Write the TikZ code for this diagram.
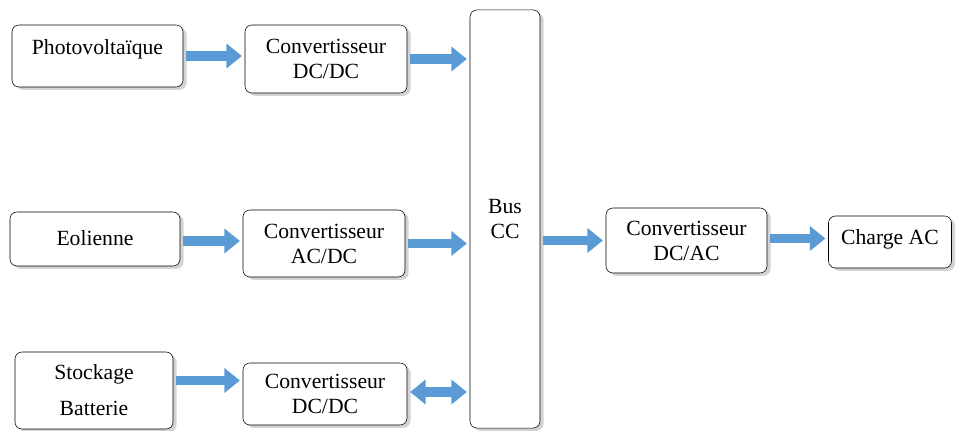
\documentclass[tikz,border=0pt]{standalone}
\usepackage{fontspec}
\setmainfont{Liberation Serif}
\usetikzlibrary{arrows.meta,shadows,calc}
\definecolor{flowblue}{HTML}{5B9BD5}
\tikzset{
  box/.style={draw=black,fill=white,rounded corners=5pt,thin,align=center,
    inner sep=0pt,font=\fontsize{15.4pt}{17.8pt}\selectfont,
    drop shadow={shadow xshift=2.5pt,shadow yshift=-2pt,opacity=0.35}},
  flow/.style={draw=flowblue,line width=7pt,shorten <=2pt,shorten >=2pt,
    -{Triangle[width=17pt,length=11pt]}},
  flowboth/.style={flow,{Triangle[width=17pt,length=11pt]}-{Triangle[width=17pt,length=11pt]}}
}
\begin{document}
\begin{tikzpicture}[x=0.025cm,y=-0.025cm]
\useasboundingbox (0,0) rectangle (961,431);
% sources
\node[box,minimum width=4.275cm,minimum height=1.55cm] (pv) at (97.5,56) {\raisebox{12.5pt}{Photovoltaïque}};
\node[box,minimum width=4.25cm,minimum height=1.35cm] (eol) at (95,239) {\raisebox{2pt}{Eolienne}};
\node[box,minimum width=3.95cm,minimum height=1.925cm,
  font=\fontsize{15.4pt}{25.6pt}\selectfont] (stock) at (94,390.5) {Stockage\\Batterie};
% converters
\node[box,minimum width=4.05cm,minimum height=1.7cm] (conv1) at (326,59) {Convertisseur\\DC/DC};
\node[box,minimum width=4.05cm,minimum height=1.675cm] (conv2) at (324,243.5) {Convertisseur\\AC/DC};
\node[box,minimum width=4.1cm,minimum height=1.55cm] (conv3) at (325,394) {Convertisseur\\DC/DC};
% bus and load side
\node[box,minimum width=1.75cm,minimum height=10.45cm] (bus) at (505,219) {Bus\\CC};
\node[box,minimum width=4.025cm,minimum height=1.625cm] (inv) at (686.5,240.5) {Convertisseur\\DC/AC};
\node[box,minimum width=3.075cm,minimum height=1.3cm] (load) at (890,242) {\raisebox{7pt}{Charge AC}};
% flows
\draw[flow] (pv.east) -- (pv.east -| conv1.west);
\draw[flow] (conv1.east) -- (conv1.east -| bus.west);
\draw[flow] ($(eol.east)+(0,2)$) -- ($(eol.east -| conv2.west)+(0,2)$);
\draw[flow] (conv2.east) -- (conv2.east -| bus.west);
\draw[flow] ($(stock.east)+(0,-10)$) -- ($(stock.east -| conv3.west)+(0,-10)$);
\draw[flowboth] ($(conv3.east)+(0,-2)$) -- ($(conv3.east -| bus.west)+(0,-2)$);
\draw[flow] (bus.east |- inv.west) -- (inv.west);
\draw[flow] ($(inv.east)+(0,-2)$) -- ($(inv.east -| load.west)+(0,-2)$);
\end{tikzpicture}
\end{document}
